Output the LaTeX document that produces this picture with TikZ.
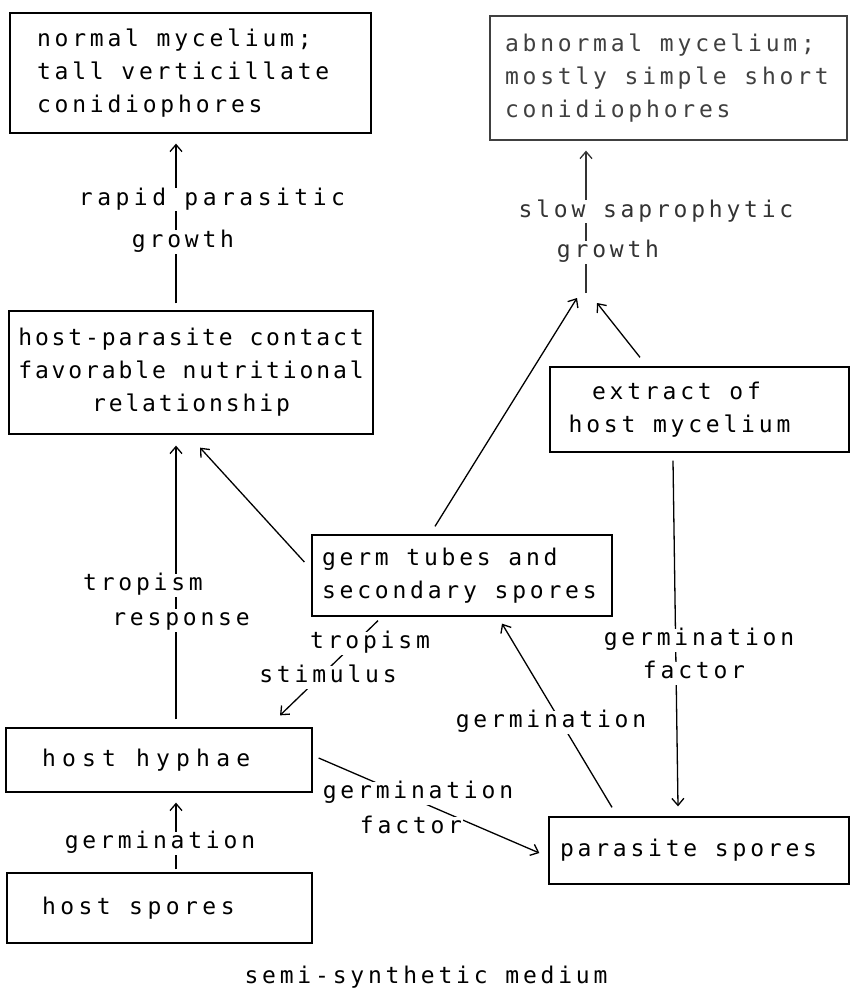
\documentclass[tikz,border=0pt]{standalone}
\usepackage{fontspec}
\setmainfont[LetterSpace=16.5]{DejaVu Sans Mono}
\newfontfamily\tightf[LetterSpace=12.5]{DejaVu Sans Mono}
\newfontfamily\widef[LetterSpace=27]{DejaVu Sans Mono}
\newfontfamily\loosef[LetterSpace=19.5]{DejaVu Sans Mono}
\usetikzlibrary{arrows.meta}
\newcommand\diatxt{\fontsize{23}{33}\selectfont}
\begin{document}
\begin{tikzpicture}[x=1pt,y=-1pt,
  box/.style={draw, line width=1.3pt, inner ysep=0pt, font=\diatxt,
    execute at begin node={\spaceskip=\fontdimen2\font\relax}},
  lab/.style={fill=white, inner sep=1pt, text height=16pt, text depth=5pt, font=\diatxt},
  arr/.style={line width=1.3pt, -{Straight Barb[length=7pt,width=12pt,line width=1.3pt]}}]
\useasboundingbox (0,0) rectangle (850,1000);

% boxes
\node[box, text width=307pt, inner xsep=27pt, minimum height=120pt, align=left] (nm) at (190.5,73)
  {\mbox{normal mycelium;}\\\mbox{tall verticillate}\\\mbox{conidiophores}};
\node[box, draw=black!75, text=black!75, text width=327pt, inner xsep=15pt, minimum height=124pt, align=left] (ab) at (668.5,78)
  {\mbox{abnormal mycelium;}\\\mbox{mostly simple short}\\\mbox{conidiophores}};
\node[box, font=\diatxt\tightf, text width=356pt, inner xsep=4pt, minimum height=123pt, align=center] (hp) at (191,372.5)
  {\mbox{host-parasite contact}\\\mbox{favorable nutritional}\\\mbox{relationship}};
\node[box, text width=289pt, inner xsep=5pt, minimum height=85pt, align=center] (ex) at (699.5,409.5)
  {\mbox{extract of\hspace*{46pt}}\\\mbox{host mycelium\hspace*{40pt}}};
\node[box, text width=280pt, inner xsep=10pt, minimum height=81pt, align=left] (gt) at (462,575.5)
  {\mbox{germ tubes and}\\\mbox{secondary spores}};
\node[box, font=\diatxt\widef, text width=234pt, inner xsep=36pt, minimum height=64pt, align=left] (hh) at (159,760)
  {\mbox{host hyphae}};
\node[box, font=\diatxt\loosef, text width=235pt, inner xsep=35pt, minimum height=70pt, align=left] (hs) at (159.5,908)
  {\mbox{host spores}};
\node[box, text width=278pt, inner xsep=11pt, minimum height=67pt, align=left] (ps) at (699,850.5)
  {\mbox{parasite spores}};

% junction below the abnormal-mycelium box
\coordinate (J) at (586,293);
\coordinate (J1) at (577,298);
\coordinate (J2) at (597,303);

% connectors
\draw[arr] ([xshift=-15pt,yshift=7pt]hp.north) -- ([xshift=-14.5pt,yshift=-10pt]nm.south);
\draw[arr, draw=black!80] (J) -- ([xshift=-82.5pt,yshift=-10pt]ab.south);
\draw[arr] ([xshift=-27pt,yshift=8pt]gt.north) -- (J1);
\draw[arr] ([xshift=-59.5pt,yshift=9pt]ex.north) -- (J2);
\draw[arr] ([xshift=17pt,yshift=8pt]hh.north) -- ([xshift=-15pt,yshift=-11pt]hp.south);
\draw[arr] ([xshift=-7pt,yshift=13.5pt]gt.west) -- ([xshift=9pt,yshift=-13pt]hp.south);
\draw[arr] ([xshift=-84pt,yshift=-4pt]gt.south) -- ([xshift=121pt,yshift=12pt]hh.north);
\draw[arr] ([xshift=6pt,yshift=2pt]hh.east) -- ([xshift=-9pt,yshift=-2.5pt]ps.west);
\draw[arr] ([xshift=-87pt,yshift=9pt]ps.north) -- ([xshift=40pt,yshift=-7pt]gt.south);
\draw[arr] ([xshift=-26.5pt,yshift=-8pt]ex.south) -- ([xshift=-21pt,yshift=10pt]ps.north);
\draw[arr] ([xshift=16.5pt,yshift=3pt]hs.north) -- ([xshift=17pt,yshift=-10pt]hh.south);

% labels
\node[lab, font=\diatxt\loosef] (l1a) at (212,200) {rapid parasitic};
\node[lab] (l1b) at (183,242) {growth};
\node[lab, text=black!80] (l2a) at (656,212) {slow saprophytic};
\node[lab, text=black!80] (l2b) at (608,252) {growth};
\node[lab] (l3a) at (143,585) {tropism};
\node[lab] (l3b) at (181,620) {response};
\node[lab] (l4a) at (370,643) {tropism};
\node[lab] (l4b) at (328,677) {stimulus};
\node[lab] (l5a) at (418,793) {germination};
\node[lab] (l5b) at (411,828) {factor};
\node[lab] (l6) at (551,722) {germination};
\node[lab] (l7a) at (699,640) {germination};
\node[lab] (l7b) at (694,673) {factor};
\node[lab] (l8) at (160,843) {germination};
\node[lab, fill=none] (med) at (426,978) {semi-synthetic medium};
\end{tikzpicture}
\end{document}
